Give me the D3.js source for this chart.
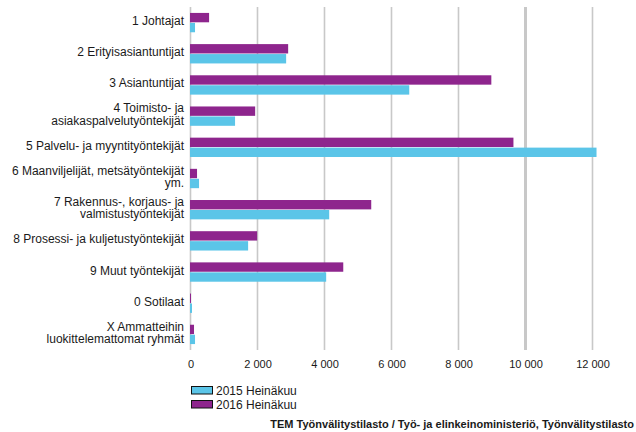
<!DOCTYPE html>
<html>
<head>
<meta charset="utf-8">
<script src="https://cdn.jsdelivr.net/npm/d3@7"></script>
<style>
  html, body { margin: 0; padding: 0; background: #fff; }
  svg { display: block; }
  text { font-family: "Liberation Sans", Arial, sans-serif; fill: #1a1a1a; }
</style>
</head>
<body>
<svg id="chart" width="636" height="432"></svg>
<script>
// ---- Data ----
const categories = [
  "1 Johtajat",
  "2 Erityisasiantuntijat",
  "3 Asiantuntijat",
  "4 Toimisto- ja\nasiakaspalvelutyöntekijät",
  "5 Palvelu- ja myyntityöntekijät",
  "6 Maanviljelijät, metsätyöntekijät\nym.",
  "7 Rakennus-, korjaus- ja\nvalmistustyöntekijät",
  "8 Prosessi- ja kuljetustyöntekijät",
  "9 Muut työntekijät",
  "0 Sotilaat",
  "X Ammatteihin\nluokittelemattomat ryhmät"
];
const seriesNames = ["2015 Heinäkuu", "2016 Heinäkuu"];
const values2015 = [135, 2855, 6530, 1330, 12120, 255, 4140, 1720, 4050, 45, 135];
const values2016 = [555, 2915, 8980, 1930, 9640, 195, 5395, 1990, 4560, 15, 105];
const tickValues = [0, 2000, 4000, 6000, 8000, 10000, 12000];
const tickLabels = ["0", "2 000", "4 000", "6 000", "8 000", "10 000", "12 000"];
const sourceText = "TEM Työnvälitystilasto / Työ- ja elinkeinoministeriö, Työnvälitystilasto";

const colors = { "2015 Heinäkuu": "#5bc5e8", "2016 Heinäkuu": "#8e258d" };

// ---- Layout ----
const svg = d3.select("#chart");
const plot = { left: 190.5, right: 592.5, top: 7, bottom: 350 };

const x = d3.scaleLinear().domain([0, 12000]).range([plot.left, plot.right]);
const y = d3.scaleBand().domain(categories).range([plot.top, plot.bottom])
  .paddingInner(0.38).paddingOuter(0.19);
// 2016 drawn on top, 2015 below within each group
const ySub = d3.scaleBand().domain(["2016 Heinäkuu", "2015 Heinäkuu"])
  .range([0, y.bandwidth()]).paddingInner(0.06);

// gridlines
svg.append("g").selectAll("line").data(tickValues).join("line")
  .attr("x1", d => x(d)).attr("x2", d => x(d))
  .attr("y1", plot.top).attr("y2", plot.bottom)
  .attr("stroke", "#c8c8c8")
  .attr("stroke-width", d => d === 10000 ? 3 : 1.6);

// bars
const rows = categories.map((c, i) => ({ c, "2015 Heinäkuu": values2015[i], "2016 Heinäkuu": values2016[i] }));
const groups = svg.append("g").selectAll("g").data(rows).join("g")
  .attr("transform", d => `translate(0,${y(d.c)})`);
groups.selectAll("rect").data(d => seriesNames.map(s => ({ s, v: d[s] }))).join("rect")
  .attr("x", x(0) - 0.5)
  .attr("y", d => ySub(d.s))
  .attr("width", d => Math.max(0.8, x(d.v) - x(0) + 0.5))
  .attr("height", ySub.bandwidth())
  .attr("fill", d => colors[d.s]);

// x axis labels
const xAxis = d3.axisBottom(x).tickValues(tickValues)
  .tickFormat((d, i) => tickLabels[i]).tickSize(0).tickPadding(0);
const gx = svg.append("g").attr("transform", `translate(0,${plot.bottom})`).call(xAxis);
gx.select(".domain").remove();
gx.selectAll("text").attr("font-size", 11).attr("dy", null).attr("y", 18)
  .style("font-family", "'Liberation Sans', Arial, sans-serif").attr("fill", "#1a1a1a");

// category labels
const lab = svg.append("g");
categories.forEach(c => {
  const lines = c.split("\n");
  const cy = y(c) + y.bandwidth() / 2;
  const t = lab.append("text").attr("text-anchor", "end").attr("font-size", 12);
  lines.forEach((ln, i) => {
    t.append("tspan").attr("x", 184)
      .attr("y", cy + 2.5 + (i - (lines.length - 1) / 2) * 12.4)
      .text(ln);
  });
});

// legend
const leg = svg.append("g").attr("transform", "translate(191,386.5)");
seriesNames.forEach((s, i) => {
  const g = leg.append("g").attr("transform", `translate(0,${i * 14})`);
  g.append("rect").attr("x", 0.5).attr("y", 0).attr("width", 21).attr("height", 7.5)
    .attr("fill", colors[s]).attr("stroke", "#111").attr("stroke-width", 1);
  g.append("text").attr("x", 25).attr("y", 8).attr("font-size", 12).text(s);
});

// source
svg.append("text").attr("x", 634).attr("y", 427.5).attr("text-anchor", "end")
  .attr("font-size", 11).attr("font-weight", "bold").text(sourceText);
</script>
</body>
</html>
